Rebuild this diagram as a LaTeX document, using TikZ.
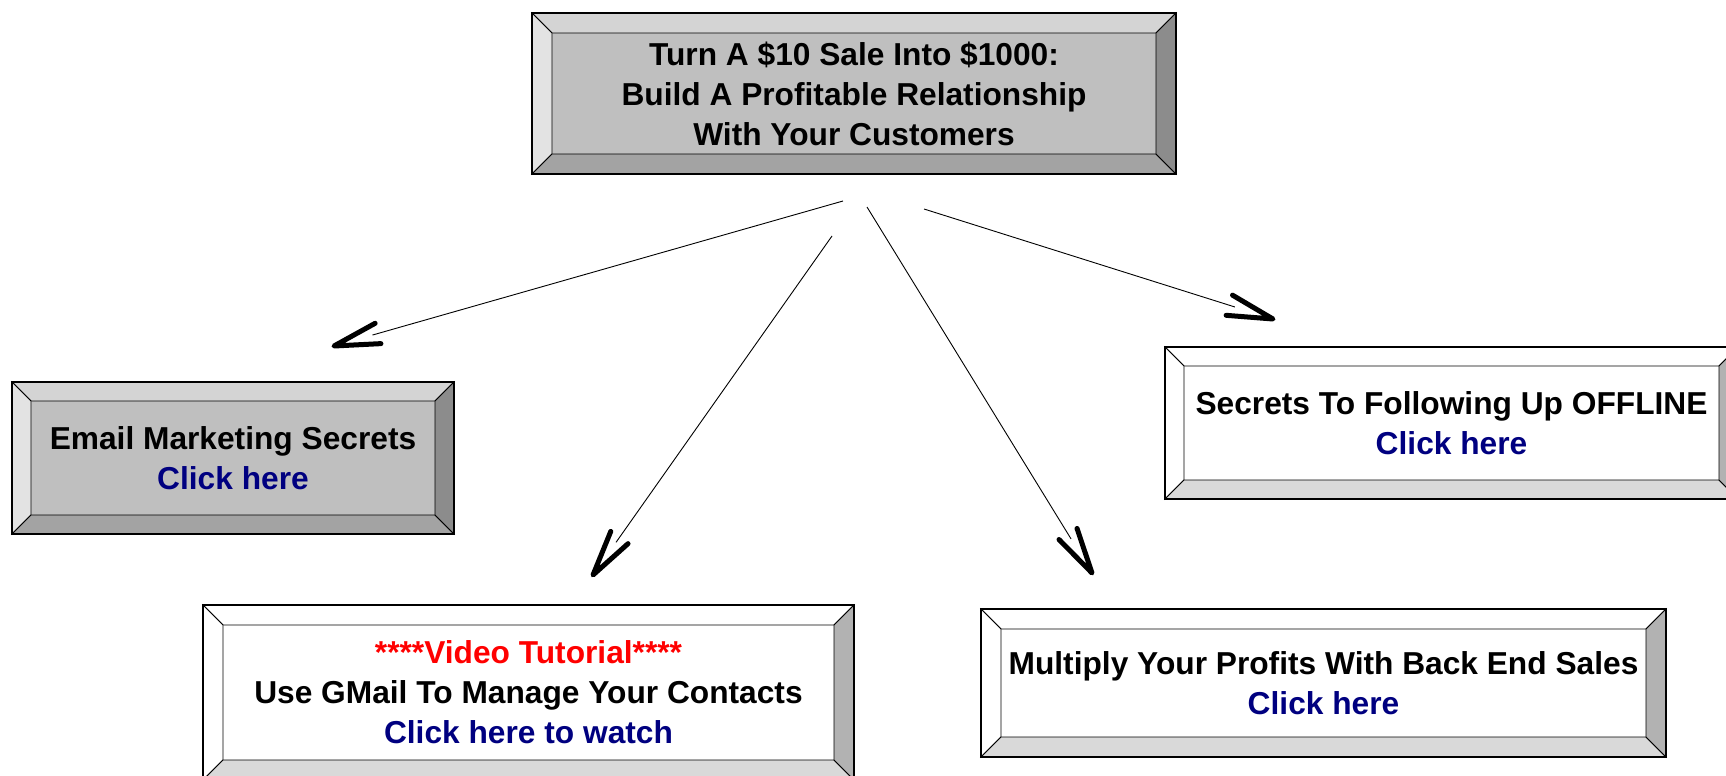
\documentclass[tikz,border=0pt]{standalone}
\usepackage{fontspec}
\setmainfont{Liberation Sans}
\usepackage{tikz}
\usetikzlibrary{calc}
\definecolor{linkblue}{RGB}{0,0,128}
\definecolor{redtext}{RGB}{255,0,0}
\def\bevel(#1)(#2)#3#4#5#6{%
	\coordinate (#1-nw) at ($(#1.north west)+(#2,-#2)$);
	\coordinate (#1-ne) at ($(#1.north east)+(-#2,-#2)$);
	\coordinate (#1-se) at ($(#1.south east)+(-#2,#2)$);
	\coordinate (#1-sw) at ($(#1.south west)+(#2,#2)$);
	\filldraw[fill=#3] (#1.north west) -- (#1.north east) -- (#1-ne) -- (#1-nw) -- cycle;
	\filldraw[fill=#4] (#1.north west) -- (#1-nw) -- (#1-sw) -- (#1.south west) -- cycle;
	\filldraw[fill=#5] (#1.south west) -- (#1-sw) -- (#1-se) -- (#1.south east) -- cycle;
	\filldraw[fill=#6] (#1.north east) -- (#1.south east) -- (#1-se) -- (#1-ne) -- cycle;
	\draw[line width=0.7pt] (#1.north west) rectangle (#1.south east);}
\def\chevron(#1)(#2){\draw[line width=2.5pt, line cap=round, line join=round] ($(#2)!23.5pt!13:(#1)$) -- (#2) -- ($(#2)!23.5pt!-13:(#1)$);}

\begin{document}
\begin{tikzpicture}[x=0.5pt, y=-0.5pt, line width=0.45pt,
	box/.style={draw, outer sep=0pt, inner sep=0pt, align=center,
		font=\fontsize{15.85}{20}\selectfont\bfseries},
	graybox/.style={box, fill=black!25},
	whitebox/.style={box, fill=white},
	link/.style={color=linkblue}]
			%%%%% START %%%%%
			\useasboundingbox (0, 0) rectangle (1726, 776);
			\clip (0, 0) rectangle (1726, 776);
			
			\node[graybox, minimum width=322pt, minimum height=80.5pt] (topic) at (854, 93.5)
				{Turn A \$10 Sale Into \$1000:\\Build A Profitable Relationship\\With Your Customers};
			\bevel(topic)(10pt){black!17}{black!11}{black!36}{black!45}
			
			\node[graybox, minimum width=221pt, minimum height=76pt] (email) at (233, 458)
				{Email Marketing Secrets\\\textcolor{linkblue}{Click here}};
			\bevel(email)(9.5pt){black!17}{black!11}{black!36}{black!45}
			
			\node[whitebox, minimum width=286.5pt, minimum height=76pt] (offline) at (1451.5, 423)
				{Secrets To Following Up OFFLINE\\\textcolor{linkblue}{Click here}};
			\bevel(offline)(9.5pt){white}{white}{black!15}{black!30}
			
			\node[whitebox, minimum width=325.5pt, minimum height=87.5pt] (video) at (528.5, 692.5)
				{\textcolor{redtext}{****Video Tutorial****}\\Use GMail To Manage Your Contacts\\\textcolor{linkblue}{Click here to watch}};
			\bevel(video)(10pt){white}{white}{black!15}{black!30}
			
			\node[whitebox, minimum width=342.5pt, minimum height=74pt] (backend) at (1323.5, 683)
				{Multiply Your Profits With Back End Sales\\\textcolor{linkblue}{Click here}};
			\bevel(backend)(10pt){white}{white}{black!15}{black!30}
			
			% arrows
			\coordinate (s1) at (843, 201);  \coordinate (t1) at (334, 346);
			\coordinate (s2) at (832, 236);  \coordinate (t2) at (593, 575);
			\coordinate (s3) at (867, 207);  \coordinate (t3) at (1092, 573);
			\coordinate (s4) at (924, 209);  \coordinate (t4) at (1273, 319);
			
			\draw[shorten >=20pt] (s1) -- (t1);
			\chevron(s1)(t1)
			\draw[shorten >=20pt] (s2) -- (t2);
			\chevron(s2)(t2)
			\draw[shorten >=20pt] (s3) -- (t3);
			\chevron(s3)(t3)
			\draw[shorten >=20pt] (s4) -- (t4);
			\chevron(s4)(t4)
			
			%%%%% END %%%%%
\end{tikzpicture}
\end{document}
